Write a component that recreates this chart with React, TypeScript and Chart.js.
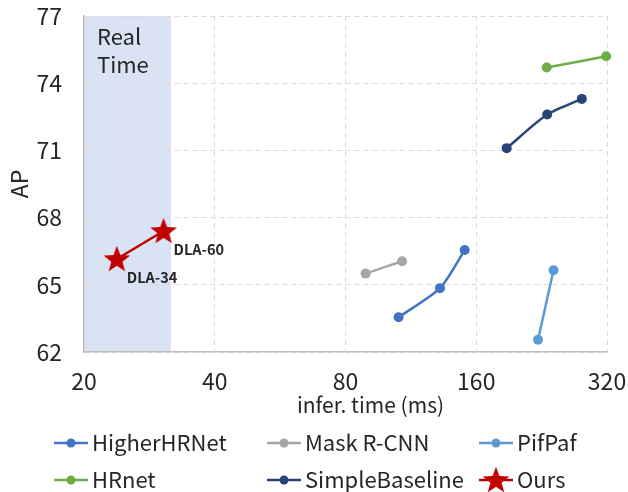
import React, { useEffect, useRef } from "react";
import { Chart, registerables } from "chart.js";
Chart.register(...registerables);

const X_TICKS = [20, 40, 80, 160, 320];
const Y_MIN = 62;
const Y_MAX = 77;
const Y_STEP = 3;
const REAL_TIME_MAX = 31.7;

const SERIES_NAMES = ["HigherHRNet", "Mask R-CNN", "PifPaf", "HRnet", "SimpleBaseline", "Ours"];
const SERIES_COLORS = ["#4472C4", "#A5A5A5", "#5B9BD5", "#70AD47", "#264478", "#C00000"];

const HIGHERHRNET_X = [106, 132, 150.5];
const HIGHERHRNET_Y = [63.55, 64.85, 66.55];
const MASKRCNN_X = [89, 108];
const MASKRCNN_Y = [65.5, 66.05];
const PIFPAF_X = [222, 241];
const PIFPAF_Y = [62.55, 65.65];
const HRNET_X = [232.5, 318.5];
const HRNET_Y = [74.7, 75.2];
const SIMPLEBASELINE_X = [188, 233, 280];
const SIMPLEBASELINE_Y = [71.1, 72.6, 73.3];
const OURS_X = [23.8, 30.5];
const OURS_Y = [66.15, 67.4];
const OURS_LABELS = ["DLA-34", "DLA-60"];

const FONT = '"Noto Sans CJK SC", "Noto Sans", sans-serif';
const TEXT_COLOR = "#262626";

function makeStar(size: number, color: string) {
  const c = document.createElement("canvas");
  c.width = size;
  c.height = size;
  const ctx = c.getContext("2d")!;
  const R = size / 2 - 1;
  const r = R * 0.42;
  const cx = size / 2;
  const cy = size / 2 + R * 0.06;
  ctx.beginPath();
  for (let i = 0; i < 10; i++) {
    const a = -Math.PI / 2 + (i * Math.PI) / 5;
    const rad = i % 2 === 0 ? R : r;
    ctx.lineTo(cx + rad * Math.cos(a), cy + rad * Math.sin(a));
  }
  ctx.closePath();
  ctx.fillStyle = color;
  ctx.fill();
  return c;
}

function zip(xs: number[], ys: number[]) {
  return xs.map((x, i) => ({ x, y: ys[i] }));
}

export default function App() {
  const ref = useRef<HTMLCanvasElement>(null);
  useEffect(() => {
    document.body.style.margin = "0";
    const star = makeStar(30, SERIES_COLORS[5]);
    const seriesData = [
      zip(HIGHERHRNET_X, HIGHERHRNET_Y),
      zip(MASKRCNN_X, MASKRCNN_Y),
      zip(PIFPAF_X, PIFPAF_Y),
      zip(HRNET_X, HRNET_Y),
      zip(SIMPLEBASELINE_X, SIMPLEBASELINE_Y),
      zip(OURS_X, OURS_Y),
    ];
    const datasets = seriesData.map((d, i) => ({
      label: SERIES_NAMES[i],
      data: d,
      showLine: true,
      borderColor: SERIES_COLORS[i],
      backgroundColor: SERIES_COLORS[i],
      borderWidth: 2.5,
      pointRadius: i === 5 ? 14 : 5,
      pointHoverRadius: i === 5 ? 14 : 5,
      pointBorderWidth: 0,
      pointStyle: i === 5 ? (star as any) : "circle",
      tension: 0.25,
      clip: false,
      order: i === 5 ? 0 : 1,
    }));

    const bandPlugin = {
      id: "band",
      beforeDraw(chart: any) {
        const { ctx, chartArea, scales } = chart;
        const x0 = scales.x.getPixelForValue(X_TICKS[0]);
        const x1 = scales.x.getPixelForValue(REAL_TIME_MAX);
        ctx.save();
        ctx.fillStyle = "#DAE3F3";
        ctx.fillRect(x0, chartArea.top, x1 - x0, chartArea.bottom - chartArea.top);
        ctx.fillStyle = TEXT_COLOR;
        ctx.font = `22px ${FONT}`;
        ctx.textAlign = "left";
        ctx.textBaseline = "middle";
        ctx.fillText("Real", x0 + 13, chartArea.top + 21);
        ctx.fillText("Time", x0 + 13, chartArea.top + 49);
        ctx.restore();
      },
    };

    const overlayPlugin = {
      id: "overlay",
      afterDraw(chart: any) {
        const { ctx, chartArea } = chart;
        ctx.save();
        const meta = chart.getDatasetMeta(5);
        ctx.font = `bold 14.5px ${FONT}`;
        ctx.fillStyle = "#262626";
        ctx.textAlign = "left";
        ctx.textBaseline = "middle";
        meta.data.forEach((pt: any, j: number) => {
          ctx.fillText(OURS_LABELS[j], pt.x + 10, pt.y + 18);
        });
        ctx.font = `21px ${FONT}`;
        ctx.fillStyle = TEXT_COLOR;
        ctx.textAlign = "center";
        ctx.fillText("infer. time (ms)", (chartArea.left + chartArea.right) / 2 + 25, 405);
        const cols = [54, 267, 479];
        const rows = [443, 480];
        ctx.font = `22px ${FONT}`;
        SERIES_NAMES.forEach((name, i) => {
          const x0 = cols[i % 3];
          const y = rows[Math.floor(i / 3)];
          ctx.strokeStyle = SERIES_COLORS[i];
          ctx.lineWidth = 2.5;
          ctx.beginPath();
          ctx.moveTo(x0, y);
          ctx.lineTo(x0 + 34, y);
          ctx.stroke();
          if (i === 5) {
            ctx.drawImage(star, x0 + 17 - 15, y - 15);
          } else {
            ctx.fillStyle = SERIES_COLORS[i];
            ctx.beginPath();
            ctx.arc(x0 + 17, y, 4.5, 0, Math.PI * 2);
            ctx.fill();
          }
          ctx.fillStyle = TEXT_COLOR;
          ctx.textAlign = "left";
          ctx.textBaseline = "middle";
          ctx.fillText(name, x0 + 38, y);
        });
        ctx.restore();
      },
    };

    const chart = new Chart(ref.current!, {
      type: "scatter",
      data: { datasets: datasets as any },
      plugins: [bandPlugin, overlayPlugin],
      options: {
        animation: false,
        responsive: false,
        maintainAspectRatio: false,
        layout: { autoPadding: false, padding: { top: 16, right: 21, left: 0, bottom: 0 } },
        plugins: { legend: { display: false }, tooltip: { enabled: false } },
        scales: {
          x: {
            type: "logarithmic",
            min: X_TICKS[0],
            max: X_TICKS[X_TICKS.length - 1],
            afterBuildTicks: (s: any) => {
              s.ticks = X_TICKS.map((v) => ({ value: v }));
            },
            afterFit: (s: any) => {
              s.height = 140;
              s.paddingLeft = 0;
              s.paddingRight = 0;
            },
            ticks: {
              autoSkip: false,
              maxRotation: 0,
              padding: 15,
              color: TEXT_COLOR,
              font: { family: FONT, size: 23 },
              callback: (v: any) => String(v),
            },
            grid: { color: "#D9D9D9", drawTicks: false, lineWidth: 1 },
            border: { color: "#BFBFBF", width: 1.5, dash: [5, 4] },
          },
          y: {
            min: Y_MIN,
            max: Y_MAX,
            afterFit: (s: any) => {
              s.width = 84;
              s.paddingTop = 0;
              s.paddingBottom = 0;
            },
            ticks: {
              stepSize: Y_STEP,
              padding: 22,
              color: TEXT_COLOR,
              font: { family: FONT, size: 23 },
            },
            grid: { color: "#D9D9D9", drawTicks: false, lineWidth: 1 },
            border: { color: "#BFBFBF", width: 1.5, dash: [5, 4] },
            title: {
              display: true,
              text: "AP",
              color: TEXT_COLOR,
              font: { family: FONT, size: 23 },
              padding: { top: 5, bottom: 0 },
            },
          },
        },
      } as any,
    });
    return () => chart.destroy();
  }, []);
  return <canvas ref={ref} width={628} height={492} style={{ display: "block" }} />;
}
